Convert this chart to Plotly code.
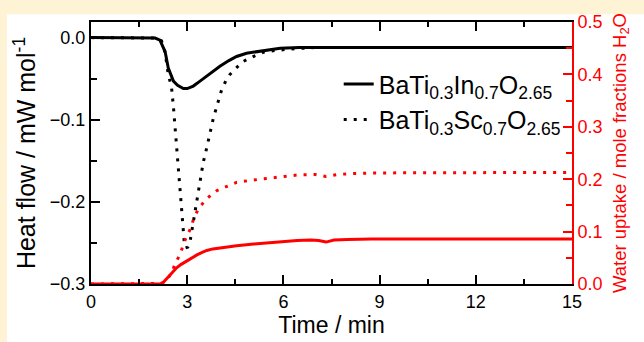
import plotly.graph_objects as go

# ---- data ----
t_in = [0, 1, 2.0, 2.15, 2.31, 2.41, 2.5, 2.57, 2.7, 2.88, 3.0, 3.19, 3.4, 3.61, 3.8, 4.02, 4.3,
        4.54, 4.85, 5.17, 5.5, 5.9, 6.5, 7.0, 7.76, 9, 10, 11, 12, 13, 14, 15]
hf_in = [0, 0, -0.0005, -0.003, -0.017, -0.037, -0.047, -0.053, -0.058, -0.062, -0.062, -0.059,
         -0.053, -0.047, -0.041, -0.035, -0.028, -0.023, -0.019, -0.017, -0.015, -0.013, -0.012,
         -0.012, -0.012, -0.012, -0.012, -0.012, -0.012, -0.012, -0.012, -0.012]

t_sc = [0, 1, 2.0, 2.2, 2.31, 2.41, 2.51, 2.57, 2.62, 2.67, 2.72, 2.78, 2.83, 2.86, 2.91, 2.95,
        3.02, 3.09, 3.19, 3.3, 3.4, 3.5, 3.61, 3.71, 3.81, 3.95, 4.07, 4.2, 4.33, 4.5, 4.75, 5.06,
        5.37, 5.68, 6.2, 7, 8, 10, 12, 15]
hf_sc = [0.0, 0.0, -0.0005, -0.004, -0.018, -0.045, -0.060, -0.084, -0.108, -0.134, -0.160,
         -0.184, -0.208, -0.232, -0.250, -0.256, -0.255, -0.248, -0.225, -0.195, -0.172, -0.152,
         -0.134, -0.115, -0.099, -0.080, -0.064, -0.053, -0.045, -0.038, -0.029, -0.023, -0.018,
         -0.016, -0.014, -0.012, -0.012, -0.012, -0.012, -0.012]

t_wi = [0, 1, 2.0, 2.15, 2.25, 2.36, 2.46, 2.57, 2.67, 2.8, 2.98, 3.15, 3.29, 3.45, 3.61, 3.8,
        4.02, 4.33, 4.54, 5.0, 5.38, 6.0, 6.43, 6.85, 7.1, 7.33, 7.58, 8.0, 8.75, 10, 11, 12,
        13, 14, 15]
w_in = [0, 0, 0, 0.0, 0.003, 0.010, 0.018, 0.025, 0.031, 0.037, 0.044, 0.050, 0.055, 0.060,
        0.064, 0.067, 0.069, 0.071, 0.073, 0.076, 0.078, 0.081, 0.083, 0.084, 0.083, 0.080,
        0.084, 0.085, 0.086, 0.086, 0.086, 0.086, 0.086, 0.086, 0.086]

t_ws = [0, 1, 2.0, 2.2, 2.36, 2.52, 2.62, 2.78, 2.88, 2.98, 3.09, 3.19, 3.35, 3.61, 3.92, 4.28,
        4.54, 5.0, 5.38, 5.9, 6.43, 7.0, 7.33, 7.69, 8.2, 9.06, 10, 11, 12, 13, 14, 15]
w_sc = [0, 0, 0, 0.001, 0.007, 0.022, 0.038, 0.057, 0.075, 0.091, 0.104, 0.122, 0.144, 0.163,
        0.178, 0.188, 0.194, 0.198, 0.201, 0.205, 0.208, 0.209, 0.205, 0.209, 0.211, 0.212,
        0.212, 0.212, 0.213, 0.213, 0.213, 0.213]

name_in = "BaTi<sub>0.3</sub>In<sub>0.7</sub>O<sub>2.65</sub>"
name_sc = "BaTi<sub>0.3</sub>Sc<sub>0.7</sub>O<sub>2.65</sub>"

FONT = "Liberation Sans, Arial, sans-serif"
DOT = "3px,7px"

fig = go.Figure()
fig.add_trace(go.Scatter(x=t_wi, y=w_in, mode="lines", yaxis="y2", showlegend=False,
                         line=dict(color="#ff0000", width=3)))
fig.add_trace(go.Scatter(x=t_ws, y=w_sc, mode="lines", yaxis="y2", showlegend=False,
                         line=dict(color="#ff0000", width=3, dash=DOT)))
fig.add_trace(go.Scatter(x=t_in, y=hf_in, mode="lines", name=name_in,
                         line=dict(color="black", width=3)))
fig.add_trace(go.Scatter(x=t_sc, y=hf_sc, mode="lines", name=name_sc,
                         line=dict(color="black", width=3, dash=DOT)))

fig.update_layout(
    width=644, height=342,
    margin=dict(l=91, r=72, t=20, b=54),
    paper_bgcolor="#FFF3D6",
    plot_bgcolor="white",
    font=dict(family=FONT, size=18, color="black"),
    showlegend=True,
    legend=dict(x=0.515, y=0.85, xanchor="left", yanchor="top",
                bgcolor="rgba(0,0,0,0)", font=dict(size=25), tracegroupgap=0),
    xaxis=dict(range=[0, 15], dtick=3, tick0=0, showgrid=False, zeroline=False,
               showline=True, linecolor="black", linewidth=2, mirror="ticks",
               ticks="inside", ticklen=9, tickwidth=2, tickcolor="black",
               minor=dict(dtick=1.5, ticks="inside", ticklen=5, tickwidth=2, tickcolor="black"),
               tickfont=dict(size=18),
               title=dict(text="Time / min", font=dict(size=23), standoff=2)),
    yaxis=dict(range=[-0.3, 0.019], dtick=0.1, tick0=0, tickformat=".1f", showgrid=False,
               zeroline=False, showline=True, linecolor="black", linewidth=2,
               ticks="inside", ticklen=9, tickwidth=2, tickcolor="black",
               minor=dict(dtick=0.05, ticks="inside", ticklen=6, tickwidth=2, tickcolor="black"),
               tickfont=dict(size=18),
               title=dict(text="Heat flow / mW mol<sup>-1</sup>", font=dict(size=25), standoff=7)),
    yaxis2=dict(range=[0, 0.5], dtick=0.1, tick0=0, tickformat=".1f", overlaying="y",
                side="right", showgrid=False, zeroline=False, showline=True,
                linecolor="#ff0000", linewidth=2, ticks="inside", ticklen=9, tickwidth=2,
                tickcolor="#ff0000",
                minor=dict(dtick=0.05, ticks="inside", ticklen=6, tickwidth=2, tickcolor="#ff0000"),
                tickfont=dict(size=18, color="#ff0000"),
                title=dict(text="Water uptake / mole fractions H<sub>2</sub>O",
                           font=dict(size=18.5, color="#ff0000"), standoff=11)),
    shapes=[dict(type="rect", xref="paper", yref="paper", x0=-0.1746, x1=1.3,
                 y0=-0.4, y1=1.0299, fillcolor="white", line=dict(width=0), layer="below")],
)

fig.write_html("out.html")
